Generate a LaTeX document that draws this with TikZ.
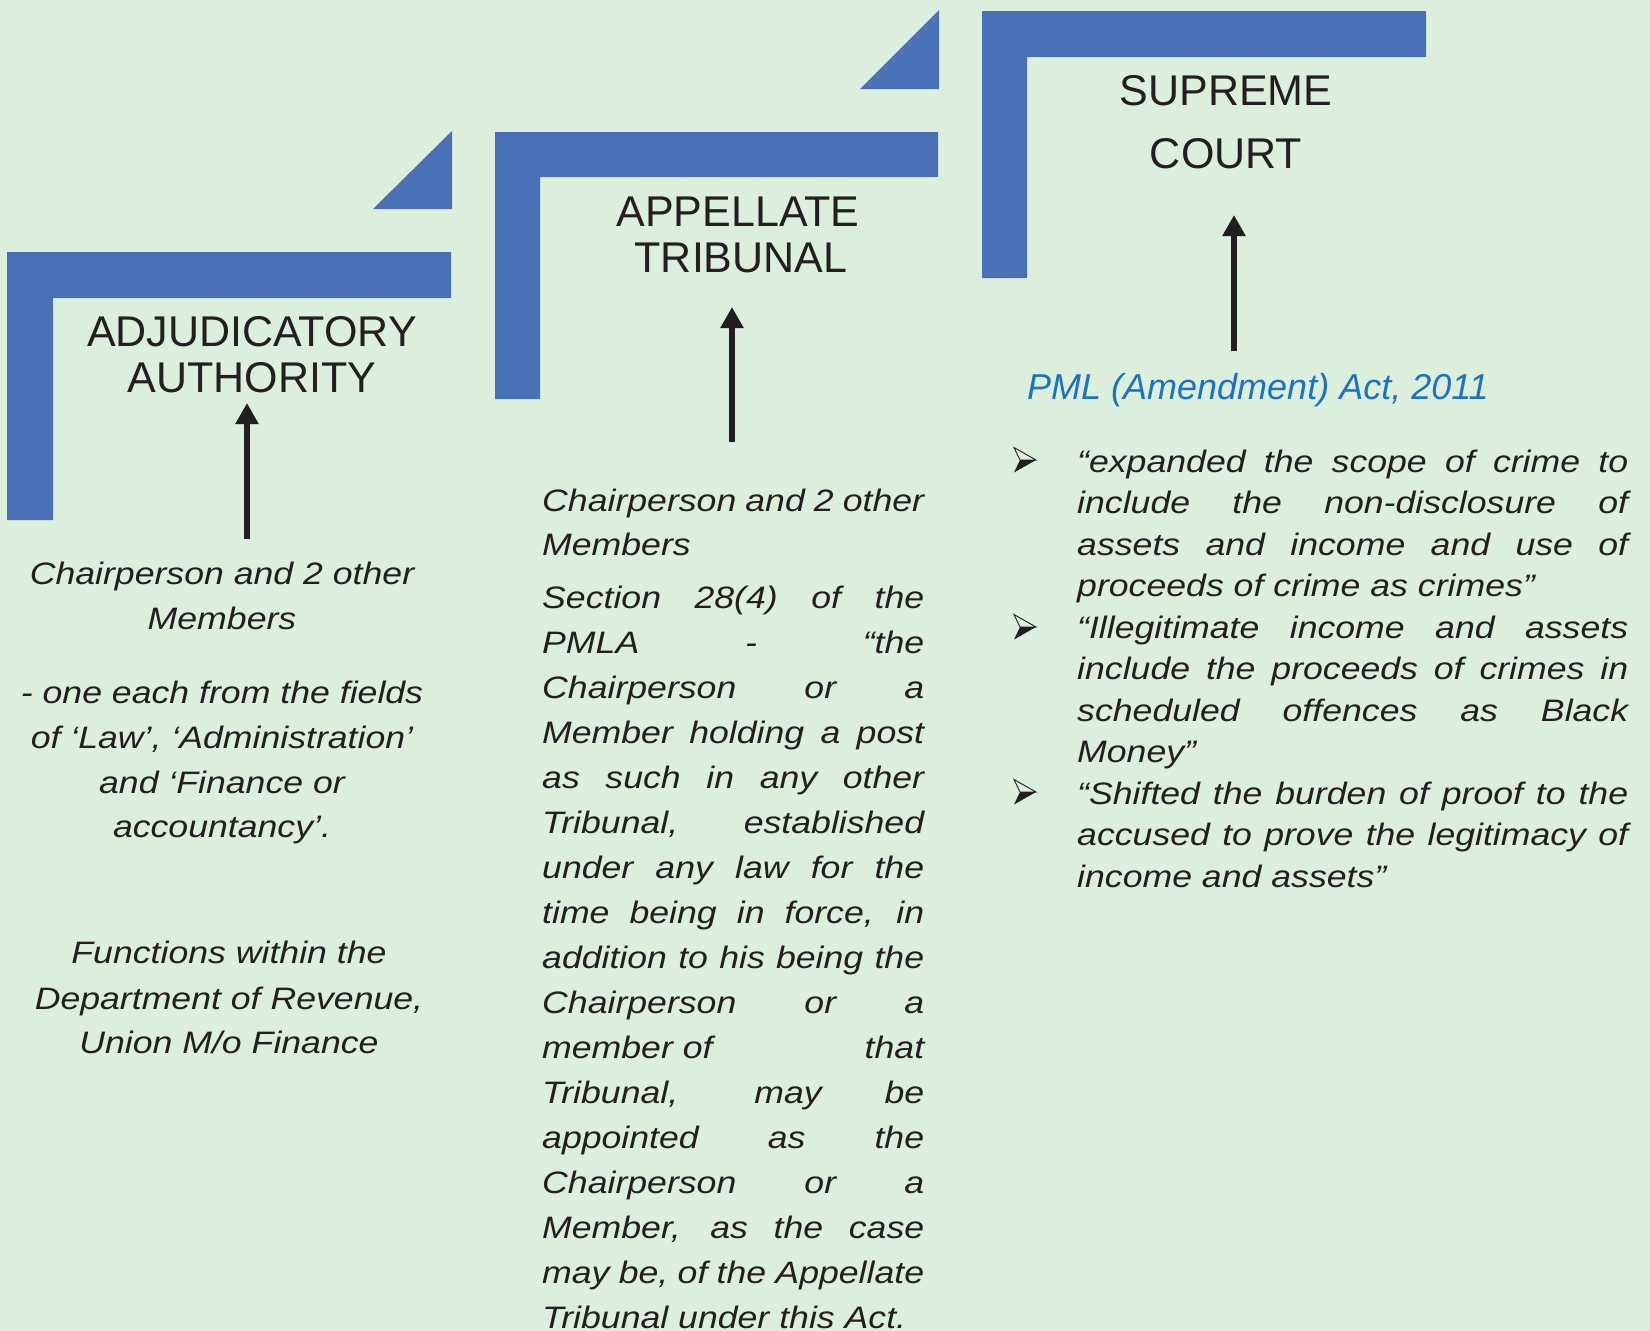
\documentclass[tikz,border=0pt]{standalone}
\usepackage{fontspec}
\setmainfont{Liberation Sans}
\newfontfamily\bodyfont[FakeStretch=1.15]{Liberation Sans}
\usetikzlibrary{arrows.meta}
\definecolor{bg}{HTML}{DCEEDC}
\definecolor{barblue}{HTML}{4A71B5}
\definecolor{ink}{HTML}{231F20}
\definecolor{pmlblue}{HTML}{1E73BE}
\begin{document}
\begin{tikzpicture}[x=1pt,y=-1pt,
  bar/.style={fill=barblue, draw=none},
  title/.style={anchor=base, inner sep=0pt, text=ink, font=\fontsize{43}{46}\selectfont},
  body/.style={inner sep=0pt, text=ink, font=\bodyfont\itshape\fontsize{31}{40}\selectfont},
  arr/.style={draw=ink, line width=6.5pt, -{Triangle[length=21pt,width=22pt]}},
  bul/.pic={
    \draw[ink, line width=0.9pt, line join=miter] (11,0) -- (-11,-12.5) -- (-5,0) -- cycle;
    \fill[ink] (11,0) -- (-5,0) -- (-11,12.5) -- cycle;
  },
]
\useasboundingbox (0,0) rectangle (1650,1331);
\fill[bg] (0,0) rectangle (1650,1331);

% L-shaped bars and triangles
\fill[bar] (7,252) -- (451,252) -- (451,298) -- (53,298) -- (53,520) -- (7,520) -- cycle;
\fill[bar] (495,132) -- (938,132) -- (938,177) -- (540,177) -- (540,399) -- (495,399) -- cycle;
\fill[bar] (982,11) -- (1426,11) -- (1426,57) -- (1027,57) -- (1027,278) -- (982,278) -- cycle;
\fill[bar] (373,209) -- (452,131) -- (452,209) -- cycle;
\fill[bar] (860,89) -- (939,10) -- (939,89) -- cycle;

% titles
\node[title] (adj1) at (252,346) {ADJUDICATORY};
\node[title] (adj2) at (252,392) {AUTHORITY};
\node[title] (app1) at (738,226) {APPELLATE};
\node[title] (app2) at (741,272) {TRIBUNAL};
\node[title] (sc1) at (1226,105) {SUPREME};
\node[title] (sc2) at (1226,168) {COURT};

% arrows
\coordinate (a1s) at (247,539); \coordinate (a1e) at (247,403);
\coordinate (a2s) at (732,442); \coordinate (a2e) at (732,307);
\coordinate (a3s) at (1234,351); \coordinate (a3e) at (1234,215);
\draw[arr] (a1s) -- (a1e);
\draw[arr] (a2s) -- (a2e);
\draw[arr] (a3s) -- (a3e);

% PML heading
\node[anchor=base west, inner sep=0pt, text=pmlblue, font=\itshape\fontsize{36}{40}\selectfont] (pml) at (1027,399) {PML (Amendment) Act, 2011};

% left column
\foreach \t/\x/\y [count=\i] in {
  {Chairperson and 2 other}/222/584,
  {Members}/222/629,
  {- one each from the fields}/222/703,
  {of ‘Law’, ‘Administration’}/222/748,
  {and ‘Finance or}/222/793,
  {accountancy’.}/222/837,
  {Functions within the}/229/963,
  {Department of Revenue,}/229/1009,
  {Union M/o Finance}/229/1053}
  \node[body, anchor=base] (left\i) at (\x,\y) {\t};

% middle column
\foreach \t/\y [count=\i] in {
  {Chairperson and 2 other}/511,
  {Members\hfill}/555,
  {Section 28(4) of the}/608,
  {PMLA - “the}/653,
  {Chairperson or a}/698,
  {Member holding a post}/743,
  {as such in any other}/788,
  {Tribunal, established}/833,
  {under any law for the}/878,
  {time being in force, in}/923,
  {addition to his being the}/968,
  {Chairperson or a}/1013,
  {member of\hfill that}/1058,
  {Tribunal, may be}/1103,
  {appointed as the}/1148,
  {Chairperson or a}/1193,
  {Member, as the case}/1238,
  {may be, of the Appellate}/1283,
  {Tribunal under this Act.\hfill}/1328}
  \node[body, anchor=base west] (mid\i) at (542,\y) {\makebox[382pt][s]{\t}};

% right column
\foreach \t/\y [count=\i] in {
  {“expanded the scope of crime to}/472,
  {include the non-disclosure of}/513.5,
  {assets and income and use of}/555,
  {proceeds of crime as crimes”\hfill}/596.5,
  {“Illegitimate income and assets}/638,
  {include the proceeds of crimes in}/679.5,
  {scheduled offences as Black}/721,
  {Money”\hfill}/762.5,
  {“Shifted the burden of proof to the}/804,
  {accused to prove the legitimacy of}/845.5,
  {income and assets”\hfill}/887}
  \node[body, anchor=base west] (right\i) at (1077,\y) {\makebox[551pt][s]{\t}};

% bullets
\foreach \y in {460,627,792}
  \pic at (1025,\y) {bul};
\end{tikzpicture}
\end{document}
